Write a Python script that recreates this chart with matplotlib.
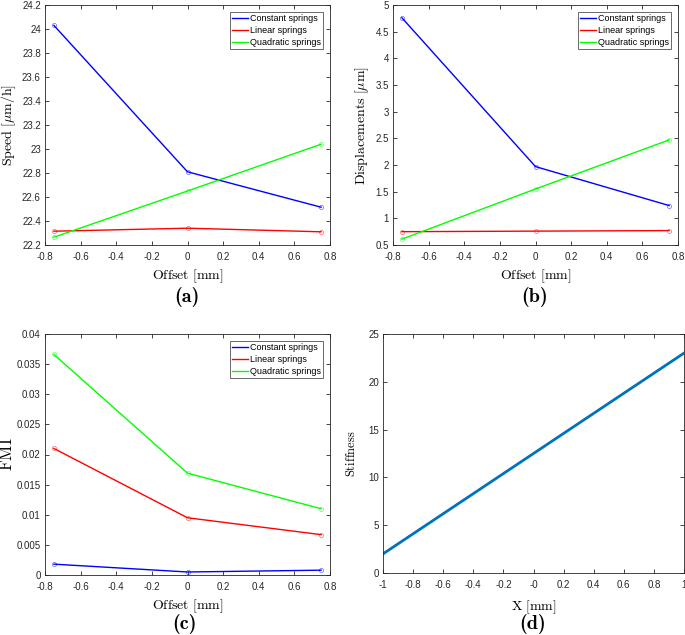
import numpy as np
import matplotlib.pyplot as plt

plt.rcParams['font.family'] = ['Liberation Sans', 'DejaVu Sans']
plt.rcParams['mathtext.fontset'] = 'cm'

# data
offset = [-0.75, 0.0, 0.75]
labels = ["Constant springs", "Linear springs", "Quadratic springs"]
colors = ["#0000ff", "#ff0000", "#00ff00"]

speed_const = [24.03, 22.81, 22.515]
speed_lin = [22.315, 22.34, 22.31]
speed_quad = [22.265, 22.65, 23.04]

disp_const = [4.76, 1.97, 1.24]
disp_lin = [0.75, 0.76, 0.77]
disp_quad = [0.61, 1.55, 2.47]

fmi_const = [0.0018, 0.0005, 0.0008]
fmi_lin = [0.021, 0.0095, 0.0067]
fmi_quad = [0.0366, 0.0169, 0.011]

stiff_x = [-1.0, 1.0]
stiff_y = [2.0, 23.0]

W, H = 685, 635
fig = plt.figure(figsize=(W / 100, H / 100), dpi=100)


def make_axes(left, top, right, bottom):
    # pixel box -> figure fraction
    return fig.add_axes([left / W, 1 - bottom / H, (right - left) / W, (bottom - top) / H])


def style(ax):
    ax.tick_params(direction='in', top=True, right=True, labelsize=7,
                   length=3, width=0.6, colors='#262626', pad=3)
    ax.tick_params(axis='x', pad=5)
    for s in ax.spines.values():
        s.set_linewidth(0.6)
        s.set_color('#262626')


def three_lines(ax, series):
    for ys, c, lab in zip(series, colors, labels):
        ax.plot(offset, ys, color=c, lw=1.0, label=lab)
        ax.plot(offset, ys, ls='none', color=c, marker='o', ms=3, mfc='none',
                mew=0.5, alpha=0.6)
    leg = ax.legend(loc='upper right', fontsize=6.5, frameon=True, fancybox=False,
                    edgecolor='#262626', handlelength=1.8, handletextpad=0.15,
                    borderpad=0.25, labelspacing=0.3, borderaxespad=0.8)
    leg.get_frame().set_linewidth(0.6)


def panel_label(x, y, s):
    fig.text(x / W, 1 - y / H, s, fontsize=14.5, ha='center', va='center',
             family='cmb10')


xt = np.round(np.arange(-0.8, 0.81, 0.2), 1)
xtl = ['-0.8', '-0.6', '-0.4', '-0.2', '0', '0.2', '0.4', '0.6', '0.8']

# (a)
ax = make_axes(45, 5, 330, 245)
three_lines(ax, [speed_const, speed_lin, speed_quad])
ax.set_xlim(-0.8, 0.8)
ax.set_ylim(22.2, 24.2)
ax.set_xticks(xt, xtl)
yt = np.round(np.arange(22.2, 24.21, 0.2), 1)
ax.set_yticks(yt, [('%g' % v) for v in yt])
ax.set_xlabel(r'$\mathrm{Offset\ [mm]}$', fontsize=10, labelpad=4)
ax.set_ylabel(r'$\mathrm{Speed\ [}\mu\mathrm{m/h]}$', fontsize=10, labelpad=3)
style(ax)
panel_label(187, 297, '(a)')

# (b)
ax = make_axes(393, 5, 678, 245)
three_lines(ax, [disp_const, disp_lin, disp_quad])
ax.set_xlim(-0.8, 0.8)
ax.set_ylim(0.5, 5)
ax.set_xticks(xt, xtl)
yt = np.arange(0.5, 5.01, 0.5)
ax.set_yticks(yt, [('%g' % v) for v in yt])
ax.set_xlabel(r'$\mathrm{Offset\ [mm]}$', fontsize=10, labelpad=4)
ax.set_ylabel(r'$\mathrm{Displacements\ [}\mu\mathrm{m]}$', fontsize=10, labelpad=3)
style(ax)
panel_label(535, 297, '(b)')

# (c)
ax = make_axes(45, 334, 330, 575)
three_lines(ax, [fmi_const, fmi_lin, fmi_quad])
ax.set_xlim(-0.8, 0.8)
ax.set_ylim(0, 0.04)
ax.set_xticks(xt, xtl)
yt = np.round(np.arange(0, 0.0401, 0.005), 3)
ax.set_yticks(yt, [('%g' % v) for v in yt])
ax.set_xlabel(r'$\mathrm{Offset\ [mm]}$', fontsize=10, labelpad=4)
ax.set_ylabel(r'$\mathrm{FMI}$', fontsize=12, labelpad=1)
style(ax)
panel_label(185, 624, '(c)')

# (d)
ax = make_axes(383, 334, 684, 573)
ax.plot(stiff_x, stiff_y, color='#0072BD', lw=2)
ax.set_xlim(-1, 1)
ax.set_ylim(0, 25)
xd = np.round(np.arange(-1, 1.01, 0.2), 1)
ax.set_xticks(xd, [('%g' % v) for v in xd])
ax.set_yticks(np.arange(0, 26, 5))
ax.set_xlabel(r'$\mathrm{X\ [mm]}$', fontsize=10, labelpad=6)
ax.set_ylabel(r'$\mathrm{Stiffness}$', fontsize=9, labelpad=7)
style(ax)
panel_label(533, 624, '(d)')

fig.savefig('out.png', dpi=100)
